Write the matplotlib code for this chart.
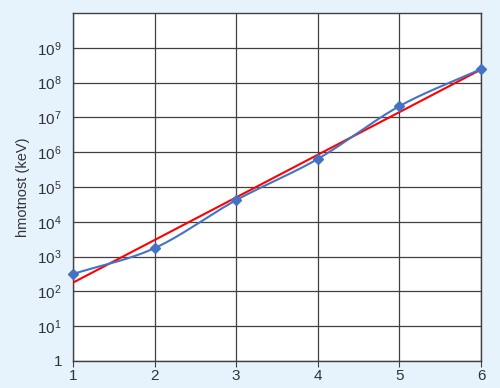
import matplotlib
matplotlib.use("Agg")
import matplotlib.pyplot as plt
import numpy as np

# data
poradi = [1, 2, 3, 4, 5, 6]
hmotnost = [316, 1750, 42000, 640000, 2.1e7, 2.45e8]   # keV
ytick_hodnoty = [1, 1e1, 1e2, 1e3, 1e4, 1e5, 1e6, 1e7, 1e8, 1e9]
ytick_popisky = ["1", "$10^{1}$", "$10^{2}$", "$10^{3}$", "$10^{4}$",
                 "$10^{5}$", "$10^{6}$", "$10^{7}$", "$10^{8}$", "$10^{9}$"]

plt.rcParams['font.family'] = ['Liberation Sans', 'DejaVu Sans']
plt.rcParams['mathtext.fontset'] = 'custom'
plt.rcParams['mathtext.rm'] = 'Liberation Sans'
plt.rcParams['mathtext.it'] = 'Liberation Sans'

pozadi = '#E6F3FD'
modra = '#4472C4'
seda = '#404040'


def vyhladit(x, y, kroku=30):
    # Catmull-Rom v log prostoru, aby cara byla hladka jako v Excelu
    x = np.asarray(x, float)
    y = np.log10(np.asarray(y, float))
    px = np.concatenate([[2*x[0]-x[1]], x, [2*x[-1]-x[-2]]])
    py = np.concatenate([[2*y[0]-y[1]], y, [2*y[-1]-y[-2]]])
    xs, ys = [], []
    for i in range(1, len(px)-2):
        t = np.linspace(0, 1, kroku)
        for p, out in ((px, xs), (py, ys)):
            p0, p1, p2, p3 = p[i-1], p[i], p[i+1], p[i+2]
            out.extend(0.5*((2*p1) + (-p0+p2)*t + (2*p0-5*p1+4*p2-p3)*t**2
                            + (-p0+3*p1-3*p2+p3)*t**3))
    return np.array(xs), 10**np.array(ys)


fig = plt.figure(figsize=(5, 3.88), dpi=100, facecolor=pozadi)
ax = fig.add_axes([73/500, 1-361/388, (481-73)/500, (361-13)/388])
ax.set_facecolor('white')

# exponencialni trend (primka v log ose)
k, q = np.polyfit(poradi, np.log10(hmotnost), 1)
xt = np.array([poradi[0], poradi[-1]])
ax.plot(xt, 10**(k*xt+q), color='red', lw=1.5, zorder=3)

xs, ys = vyhladit(poradi, hmotnost)
ax.plot(xs, ys, color=modra, lw=1.5, zorder=4)
ax.plot(poradi, hmotnost, 'D', color=modra, markersize=5.5, zorder=5, clip_on=False)

ax.set_yscale('log')
ax.set_ylim(1, 1e10)
ax.set_xlim(1, 6)
ax.set_yticks(ytick_hodnoty)
ax.set_yticklabels(ytick_popisky)
ax.minorticks_off()
ax.set_xticks(poradi)
ax.grid(True, color=seda, lw=0.9)
ax.set_axisbelow(True)
for s in ax.spines.values():
    s.set_color(seda)
    s.set_linewidth(1)
ax.tick_params(axis='y', length=0, pad=8, labelsize=11, labelcolor='#333333')
ax.tick_params(axis='x', length=4, color=seda, pad=2, labelsize=11, labelcolor='#333333')
ax.set_ylabel('hmotnost (keV)', fontsize=10.5, color='#333333', labelpad=5)

fig.savefig('out.png', dpi=100, facecolor=pozadi)
